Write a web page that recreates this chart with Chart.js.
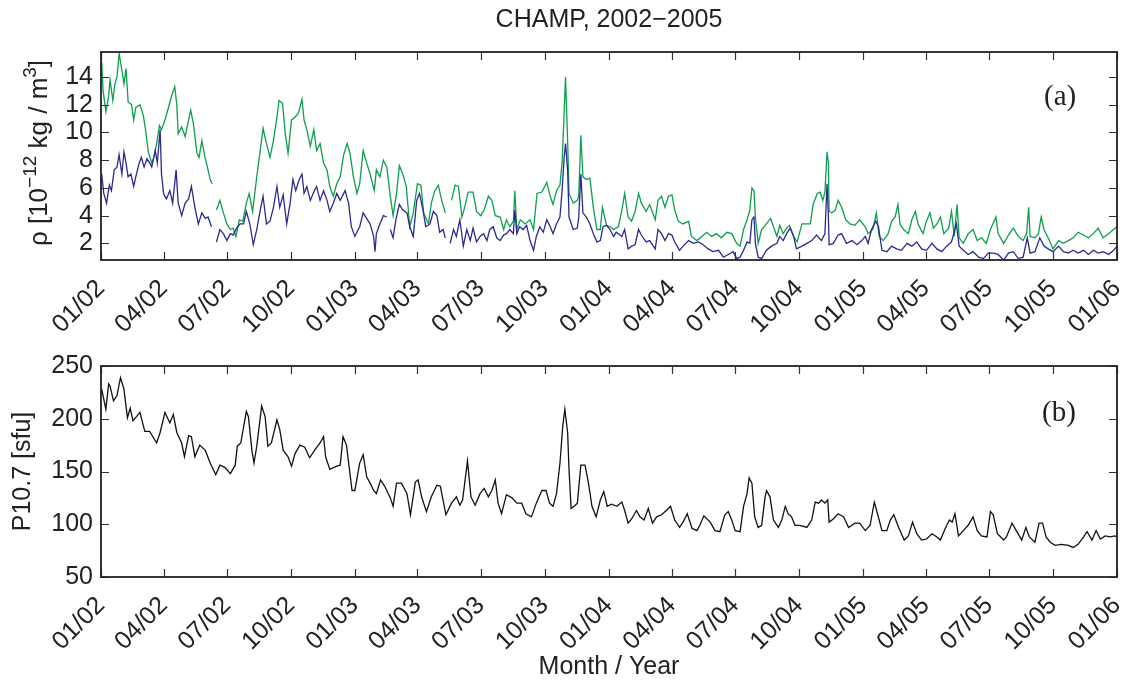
<!DOCTYPE html>
<html lang="en">
<head>
<meta charset="UTF-8">
<title>CHAMP, 2002−2005</title>
<script src="https://cdn.jsdelivr.net/npm/chart.js@4.4.1/dist/chart.umd.min.js"></script>
<style>
  html, body { margin: 0; padding: 0; background: #fff; }
  #page { position: relative; width: 1122px; height: 682px; overflow: hidden;
          font-family: "Liberation Sans", Arial, sans-serif; color: #222; }
  .panel { position: absolute; left: 0; }
  #topPanel { top: 0; }
  #bottomPanel { top: 345px; }
  .title { position: absolute; top: 3px; left: 101px; width: 1016px; text-align: center;
           font-size: 25px; line-height: 30px; }
  .tag { position: absolute; font-family: "Liberation Serif", "DejaVu Serif", serif;
         font-size: 29px; line-height: 34px; color: #222; }
</style>
</head>
<body>
<div id="page">
  <div class="panel" id="topPanel"><canvas id="rhoChart" width="1122" height="345"></canvas></div>
  <div class="panel" id="bottomPanel"><canvas id="fluxChart" width="1122" height="337"></canvas></div>
  <div class="title">CHAMP, 2002−2005</div>
  <div class="tag" style="left:1044px; top:78px;">(a)</div>
  <div class="tag" style="left:1042px; top:394px;">(b)</div>
</div>

<script>
// x values are days since 2002-01-01
const quarterDays = [0, 90, 181, 273, 365, 455, 546, 638, 730, 821, 912, 1004, 1096, 1186, 1277, 1369, 1461];
const quarterLabels = ['01/02', '04/02', '07/02', '10/02', '01/03', '04/03', '07/03', '10/03',
                       '01/04', '04/04', '07/04', '10/04', '01/05', '04/05', '07/05', '10/05', '01/06'];
const rhoTicks = [2, 4, 6, 8, 10, 12, 14];
const fluxTicks = [50, 100, 150, 200, 250];

// density, green curve (null = data gap)
const greenDays = [
  1, 3, 7, 11, 13, 17, 20, 23, 26, 30, 33, 36, 39, 44, 47, 50, 56, 61, 64, 68,
  73, 76, 80, 84, 87, 92, 97, 102, 106, 109, 111, 116, 121, 126, 129, 133, 138, 141, 145, 150,
  153, 157, 160, 163, 166, 171, 176, 181, 186, 190, 194, 199, 204, 209, 213, 218, 224, 229, 233, 238,
  243, 248, 253, 256, 261, 265, 269, 274, 279, 284, 289, 292, 296, 301, 306, 310, 315, 320, 325, 329,
  334, 339, 344, 349, 354, 358, 363, 368, 372,
  377, 382, 387, 393, 396, 401, 406, 411, 416, 420, 425, 429, 434, 439, 444, 449, 455, 460, 464, 471,
  475, 480, 485, 490, 495, 498, 504, 509, 514, 519, 523, 528, 535, 540, 546, 551, 557, 562, 567, 574,
  579, 583, 588, 593, 595, 598, 603, 610, 617, 622, 627, 634, 641, 646, 650, 655, 660, 663, 666, 668,
  671, 673, 679, 685, 687, 690, 693, 698, 703, 708, 713, 718, 721, 727, 732, 737, 744, 749, 753, 758,
  763, 768, 773, 777, 784, 789, 797, 801, 806, 811, 816, 821, 825, 830, 837, 845, 849, 857, 864, 871,
  878, 885, 892, 900, 907, 914, 919,
  924, 929, 933, 936, 939, 941, 945, 950, 955, 960, 963, 967, 972, 976, 981, 986, 990, 996, 1001, 1008,
  1015, 1020, 1024, 1030, 1034, 1038, 1041, 1044, 1046, 1047, 1051, 1056, 1060, 1065, 1071, 1077, 1084, 1091, 1099, 1103,
  1110, 1115, 1119, 1125, 1132, 1137, 1142, 1146, 1149, 1154, 1161, 1166, 1171, 1175, 1182, 1187, 1192, 1197, 1202, 1207,
  1212, 1219, 1223, 1227, 1231, 1234, 1240, 1247, 1254, 1260, 1266, 1273, 1279, 1287, 1290, 1298, 1305, 1312, 1319, 1326,
  1331, 1334, 1336, 1343, 1348, 1352, 1356, 1362, 1369, 1377, 1384, 1391, 1398, 1405, 1413, 1420, 1427, 1434, 1441, 1449,
  1456, 1461
];
const greenVals = [
  15.1, 13.0, 11.5, 12.6, 13.8, 12.3, 13.5, 14.0, 15.7, 14.5, 13.5, 14.6, 12.2, 12.0, 10.9, 11.8, 12.0, 11.2, 10.2, 8.6,
  7.8, 8.2, 9.2, 10.5, 10.2, 10.9, 11.8, 12.7, 13.3, 12.0, 9.9, 10.4, 9.7, 10.9, 11.6, 10.6, 8.5, 8.2, 9.4, 8.1,
  7.5, 6.6, 6.3, null, 4.4, 5.1, 4.2, 3.4, 3.0, 3.1, 2.5, 3.7, 3.6, 4.9, 5.6, 4.3, 6.8, 8.7, 10.3, 9.2,
  8.2, 9.4, 11.1, 12.3, 12.1, 9.9, 8.5, 10.9, 11.1, 11.4, 12.4, 10.9, 10.2, 9.0, 10.2, 8.7, 9.2, 7.8, 7.3, 6.1,
  5.4, 6.3, 6.8, 8.4, 9.2, 8.5, 6.8, 5.6, 6.3,
  8.7, 7.8, 7.0, 5.8, 7.3, 6.8, 8.0, 7.5, 5.4, 4.0, 5.6, 7.6, 7.0, 6.1, 3.2, 4.2, 6.3, 6.2, 4.2, 3.4,
  4.9, 5.8, 6.2, 5.1, 4.2, null, 5.1, 6.2, 6.1, 3.9, 4.6, 5.7, 5.7, 4.3, 4.0, 4.4, 5.4, 5.1, 4.0, 3.9,
  3.0, 3.7, 3.2, 3.6, 5.8, 3.0, 3.7, 3.4, 3.7, 3.0, 5.6, 5.7, 6.4, 5.4, 4.8, 5.8, 6.2, 7.8, 11.4, 14.0,
  9.4, 5.6, 4.9, 5.1, 5.4, 9.8, 6.8, 6.6, 6.7, 4.6, 3.0, 3.0, 4.6, 3.3, 3.2, 3.0, 3.2, 4.4, 5.6, 3.9,
  3.6, 4.3, 5.6, 4.9, 4.3, 4.8, 3.7, 5.1, 5.4, 4.6, 5.4, 5.5, 4.4, 3.6, 3.4, 3.6, 2.5, 2.2, 2.5, 2.8,
  2.5, 2.7, 2.4, 2.8, 2.7, 2.0, 1.8,
  3.0, 3.7, 4.4, 6.0, 5.8, 3.9, 2.0, 3.0, 3.3, 3.6, 3.8, 3.2, 2.5, 3.3, 2.7, 3.1, 3.3, 2.5, 2.1, 3.4,
  3.4, 3.4, 4.8, 5.6, 5.7, 5.1, 5.7, 8.6, 7.8, 4.3, 4.2, 4.4, 5.1, 4.6, 3.7, 3.4, 3.3, 3.7, 3.2, 2.7,
  3.0, 4.2, 2.5, 2.2, 2.7, 3.6, 3.9, 4.8, 3.4, 3.0, 2.7, 3.7, 4.3, 3.4, 2.7, 3.6, 4.2, 3.1, 3.4, 3.9,
  2.7, 3.1, 4.3, 2.5, 4.8, 2.4, 2.0, 2.7, 3.0, 2.2, 2.4, 2.0, 3.0, 3.9, 2.7, 2.0, 2.6, 3.1, 2.5, 2.2,
  2.7, 4.6, 2.5, 2.4, 2.7, 3.9, 3.0, 2.4, 1.6, 2.2, 2.0, 2.2, 2.4, 2.8, 2.6, 2.4, 2.7, 3.1, 2.4, 2.7,
  3.0, 3.2
];

// density, blue curve
const blueDays = [
  1, 4, 8, 12, 15, 19, 23, 26, 30, 33, 36, 39, 43, 47, 50, 55, 58, 62, 66, 70,
  73, 78, 81, 85, 87, 90, 94, 99, 103, 108, 111, 116, 121, 126, 130, 135, 140, 145, 150, 154,
  159, 163, 166, 171, 176, 181, 186, 190, 195, 200, 205, 209, 214, 219, 224, 229, 233, 238, 243, 248,
  253, 257, 262, 267, 272, 276, 280, 285, 289, 292, 296, 301, 305, 310, 315, 320, 325, 329, 334, 339,
  344, 351, 356, 360, 365, 370,
  372, 377, 382, 387, 392, 394, 396, 401, 406, 411, 414, 416, 420, 424, 429, 434, 440, 444, 449, 454,
  458, 463, 467, 473, 478, 483, 487, 492, 495, 498, 502, 507, 511, 516, 521, 526, 531, 535, 540, 545,
  550, 555, 559, 564, 569, 574, 579, 583, 588, 593, 595, 598, 602, 607, 612, 617, 622, 626, 631, 636,
  641, 646, 650, 655, 660, 663, 666, 668, 671, 673, 679, 685, 687, 690, 693, 698, 703, 708, 713, 718,
  722, 727, 732, 737, 741, 749, 753, 758, 763, 768, 773, 777, 784, 789, 797, 801, 806, 811, 816, 821,
  825, 832, 837, 845, 852, 859, 866, 873, 880, 888, 895, 902, 909, 914, 919,
  924, 929, 933, 936, 939, 941, 945, 950, 957, 964, 972, 976, 981, 986, 991, 996, 1000, 1008, 1015, 1022,
  1029, 1036, 1041, 1044, 1046, 1047, 1053, 1060, 1065, 1072, 1080, 1087, 1094, 1099, 1103, 1108, 1114, 1118, 1123, 1130,
  1137, 1144, 1151, 1159, 1166, 1173, 1180, 1187, 1195, 1202, 1209, 1216, 1223, 1230, 1234, 1240, 1247, 1254, 1262, 1269,
  1276, 1283, 1290, 1298, 1305, 1312, 1319, 1326, 1332, 1336, 1343, 1350, 1356, 1362, 1369, 1377, 1384, 1391, 1398, 1405,
  1413, 1420, 1427, 1434, 1441, 1449, 1456, 1461
];
const blueVals = [
  7.0, 5.6, 4.9, 6.2, 5.8, 7.3, 7.5, 8.4, 7.0, 8.6, 7.8, 6.8, 7.0, 6.1, 6.8, 7.8, 8.2, 7.5, 8.1, 7.8,
  7.5, 8.7, 7.8, 10.2, 7.0, 5.6, 5.2, 5.8, 4.9, 7.3, 4.9, 4.0, 4.9, 5.2, 6.1, 4.6, 3.4, 4.2, 3.8, 3.9,
  3.2, null, 2.1, 3.0, 2.7, 2.2, 2.7, 2.6, 3.1, 3.4, 3.4, 4.3, 3.4, 1.9, 3.0, 4.4, 5.4, 3.4, 3.6, 4.6,
  6.1, 4.6, 5.5, 3.4, 4.9, 6.6, 5.8, 6.6, 7.0, 5.6, 6.1, 5.1, 5.6, 6.1, 5.1, 5.8, 5.1, 4.3, 4.9, 5.6,
  5.1, 5.8, 4.9, 3.2, 2.5, 3.0,
  3.2, 4.2, 3.8, 3.4, 2.5, 1.4, 2.7, 3.4, 4.0, 3.9, null, 3.0, 2.4, 3.7, 4.8, 4.4, 4.2, 3.2, 2.5, 5.1,
  5.6, 4.4, 3.2, 3.4, 4.3, 4.0, 2.8, 3.0, 2.4, null, 2.0, 3.0, 2.5, 3.7, 1.8, 3.0, 2.2, 3.1, 2.1, 2.5,
  2.7, 2.2, 3.0, 3.2, 2.4, 2.2, 2.6, 2.7, 3.0, 2.7, 4.4, 2.7, 3.2, 3.0, 3.3, 2.2, 1.5, 2.5, 3.2, 2.8,
  3.7, 3.2, 2.7, 3.4, 3.9, 5.8, 8.2, 9.2, 7.3, 3.9, 3.0, 3.1, 3.9, 7.0, 4.2, 3.9, 3.4, 2.7, 2.1, 2.2,
  3.2, 3.3, 3.0, 2.5, 2.8, 2.5, 3.0, 1.6, 1.8, 1.9, 3.0, 2.6, 2.1, 2.2, 1.6, 3.0, 2.7, 2.2, 2.7, 2.6,
  2.1, 1.5, 1.8, 2.2, 2.0, 2.1, 1.9, 1.6, 1.4, 1.5, 1.0, 1.2, 1.4, 0.9, 1.0,
  1.5, 2.1, 2.0, 3.7, 3.9, 2.0, 1.0, 0.9, 1.5, 1.8, 2.0, 2.5, 2.2, 2.7, 3.1, 2.5, 1.6, 1.8, 2.0, 2.2,
  2.6, 2.2, 2.7, 6.3, 3.9, 1.9, 2.0, 2.6, 2.7, 2.0, 2.2, 1.9, 2.2, 2.5, 2.0, 3.0, 3.6, 3.2, 1.5, 1.4,
  1.8, 1.6, 1.5, 2.0, 1.8, 2.1, 1.6, 1.5, 2.0, 1.6, 1.4, 1.8, 2.1, 3.4, 1.8, 1.5, 1.2, 1.4, 1.0, 0.9,
  1.3, 1.3, 1.2, 0.8, 1.3, 1.4, 0.9, 1.0, 2.4, 1.3, 1.4, 2.4, 1.8, 1.6, 1.4, 1.8, 1.4, 1.3, 1.5, 1.3,
  1.5, 1.2, 1.5, 1.3, 1.4, 1.2, 1.5, 1.8
];

// P10.7 solar flux
const fluxDays = [
  1, 7, 11, 13, 18, 23, 28, 33, 38, 42, 46, 56, 63, 70, 80, 85, 92, 99, 104, 109,
  116, 120, 126, 130, 135, 142, 150, 157, 165, 171, 178, 186, 193, 196, 201, 209, 212, 217, 220, 224,
  231, 236, 240, 245, 253, 257, 262, 269, 274, 279, 286, 293, 300, 308, 315, 320, 323, 329, 339, 344,
  348, 353, 361, 365,
  372, 377, 382, 387, 392, 396, 402, 408, 416, 420, 425, 432, 440, 445, 452, 456, 461, 468, 475, 483,
  488, 496, 504, 511, 516, 520, 523, 527, 532, 538, 545, 551, 557, 562, 567, 571, 576, 583, 591, 598,
  605, 611, 619, 626, 634, 640, 645, 650, 655, 660, 664, 667, 671, 673, 676, 682, 685, 690, 696, 701,
  706, 712, 718, 723, 728, 734, 742, 749, 753, 758, 763, 770, 775, 781, 787, 793, 799, 806, 813, 819,
  825, 832, 837, 843, 850, 857, 861, 867, 876, 883, 890, 897, 902, 907, 912, 919,
  924, 929, 932, 936, 940, 945, 950, 955, 957, 962, 967, 974, 979, 984, 988, 993, 998, 1005, 1015, 1022,
  1027, 1032, 1036, 1041, 1045, 1047, 1053, 1060, 1068, 1075, 1084, 1091, 1099, 1106, 1112, 1117, 1123, 1130, 1135, 1140,
  1147, 1155, 1161, 1167, 1173, 1180, 1187, 1195, 1202, 1207, 1214, 1220, 1224, 1228, 1233, 1240, 1247, 1254, 1260, 1266,
  1274, 1279, 1283, 1289, 1298, 1302, 1310, 1317, 1324, 1330, 1335, 1343, 1349, 1354, 1359, 1365, 1372, 1381, 1391, 1398,
  1405, 1413, 1418, 1425, 1431, 1437, 1444, 1451, 1458, 1461
];
const fluxVals = [
  228, 209, 233, 231, 217, 222, 239, 228, 201, 210, 198, 206, 188, 188, 177, 187, 206, 196, 204, 187,
  177, 164, 184, 183, 164, 175, 170, 158, 147, 156, 154, 148, 156, 174, 177, 207, 202, 170, 158, 174,
  212, 202, 174, 177, 199, 190, 170, 164, 155, 167, 175, 173, 163, 171, 177, 183, 164, 152, 155, 156,
  183, 175, 132, 132,
  158, 166, 145, 139, 132, 129, 142, 136, 125, 117, 139, 139, 129, 109, 140, 142, 126, 112, 126, 137,
  136, 109, 120, 126, 118, 123, 139, 160, 126, 118, 129, 134, 126, 132, 142, 120, 110, 128, 125, 120,
  120, 110, 107, 120, 132, 132, 120, 117, 129, 158, 193, 209, 187, 152, 115, 118, 120, 156, 156, 139,
  117, 107, 123, 131, 117, 119, 117, 121, 113, 101, 105, 113, 107, 104, 115, 101, 107, 109, 113, 117,
  104, 97, 102, 110, 96, 94, 99, 108, 102, 94, 93, 109, 112, 104, 94, 93,
  117, 129, 144, 139, 107, 97, 99, 126, 132, 126, 104, 97, 104, 117, 110, 107, 99, 99, 97, 104,
  121, 120, 123, 120, 123, 102, 105, 110, 107, 97, 101, 101, 94, 99, 121, 109, 94, 94, 104, 109,
  97, 85, 89, 102, 91, 85, 86, 91, 88, 85, 96, 104, 102, 110, 89, 94, 99, 107, 94, 89,
  88, 112, 109, 91, 85, 88, 101, 93, 85, 97, 88, 83, 101, 101, 88, 83, 80, 81, 80, 78,
  81, 88, 93, 85, 94, 86, 89, 88, 89, 88
];

const toPoints = (days, vals) => days.map((d, i) => ({ x: d, y: vals[i] }));

const fontFamily = '"Liberation Sans", Arial, sans-serif';
const axisFont = { family: fontFamily, size: 25 };
const ink = '#222';

// box around the plot area and inward tick marks on all four sides
const frameTicks = {
  id: 'frameTicks',
  afterDatasetsDraw(chart) {
    const { ctx, chartArea: a, scales } = chart;
    ctx.save();
    ctx.strokeStyle = '#333';
    ctx.lineWidth = 1.2;
    ctx.beginPath();
    scales.x.ticks.forEach(t => {
      const px = Math.round(scales.x.getPixelForValue(t.value)) + 0.5;
      ctx.moveTo(px, a.bottom); ctx.lineTo(px, a.bottom - 8);
      ctx.moveTo(px, a.top); ctx.lineTo(px, a.top + 8);
    });
    scales.y.ticks.forEach(t => {
      const py = Math.round(scales.y.getPixelForValue(t.value)) + 0.5;
      ctx.moveTo(a.left, py); ctx.lineTo(a.left + 8, py);
      ctx.moveTo(a.right, py); ctx.lineTo(a.right - 8, py);
    });
    ctx.stroke();
    ctx.strokeStyle = ink;
    ctx.lineWidth = 1.8;
    ctx.strokeRect(a.left, a.top, a.right - a.left, a.bottom - a.top);
    ctx.restore();
  }
};

// rotated y title with real superscripts: [text, superscript?]
const superTitle = {
  id: 'superTitle',
  afterDraw(chart, args, opts) {
    if (!opts.parts) return;
    const { ctx, chartArea: a } = chart;
    const big = 26, small = 19;
    ctx.save();
    ctx.fillStyle = ink;
    ctx.textBaseline = 'alphabetic';
    const widths = opts.parts.map(([t, sup]) => {
      ctx.font = (sup ? small : big) + 'px ' + fontFamily;
      return ctx.measureText(t).width;
    });
    const total = widths.reduce((s, w) => s + w, 0);
    ctx.translate(opts.x, (a.top + a.bottom) / 2 - 3);
    ctx.rotate(-Math.PI / 2);
    let cx = -total / 2;
    opts.parts.forEach(([t, sup], i) => {
      ctx.font = (sup ? small : big) + 'px ' + fontFamily;
      ctx.fillText(t, cx, sup ? -11 : 0);
      cx += widths[i];
    });
    ctx.restore();
  }
};

function makeChart(id, datasets, y, opts) {
  return new Chart(document.getElementById(id), {
    type: 'line',
    data: { datasets },
    plugins: [frameTicks, superTitle],
    options: {
      responsive: false,
      animation: false,
      events: [],
      layout: { padding: { top: opts.top, right: 5, left: 0, bottom: 0 } },
      plugins: {
        legend: { display: false }, tooltip: { enabled: false },
        superTitle: y.parts ? { parts: y.parts, x: 47 } : {}
      },
      elements: { point: { radius: 0 }, line: { tension: 0, borderWidth: 1.3 } },
      scales: {
        x: {
          type: 'linear', min: 0, max: 1461,
          grid: { display: false, drawTicks: false },
          border: { display: false },
          afterBuildTicks: s => { s.ticks = quarterDays.map(v => ({ value: v })); },
          afterFit: s => { s.height = opts.xHeight; s.paddingLeft = 0; s.paddingRight = 0; },
          ticks: {
            autoSkip: false, minRotation: 45, maxRotation: 45, padding: 14,
            font: axisFont, color: ink,
            callback: v => quarterLabels[quarterDays.indexOf(v)]
          },
          title: opts.xTitle
            ? { display: true, text: opts.xTitle, font: axisFont, color: ink, padding: { top: 0, bottom: 0 } }
            : { display: false }
        },
        y: {
          type: 'linear', min: y.min, max: y.max,
          grid: { display: false, drawTicks: false },
          border: { display: false },
          afterBuildTicks: s => { s.ticks = y.ticks.map(v => ({ value: v })); },
          afterFit: s => { s.width = 101; s.paddingTop = 0; s.paddingBottom = 0; },
          ticks: { padding: 8, font: axisFont, color: ink },
          title: y.title
            ? { display: true, text: y.title, font: axisFont, color: ink, padding: { top: y.titlePad, bottom: 0 } }
            : { display: false }
        }
      }
    }
  });
}

makeChart('rhoChart', [
  { data: toPoints(blueDays, blueVals), borderColor: '#2a2a8e', order: 0 },
  { data: toPoints(greenDays, greenVals), borderColor: '#0c9f4e', order: 1 }
], { min: 0.8, max: 15.8, ticks: rhoTicks,
     parts: [['ρ [10', false], ['−12', true], [' kg / m', false], ['3', true], [']', false]] },
   { top: 52, xHeight: 85 });

makeChart('fluxChart', [
  { data: toPoints(fluxDays, fluxVals), borderColor: '#111' }
], { min: 50, max: 250, ticks: fluxTicks, title: 'P10.7 [sfu]', titlePad: 8 },
   { top: 21, xHeight: 105, xTitle: 'Month / Year' });
</script>
</body>
</html>
